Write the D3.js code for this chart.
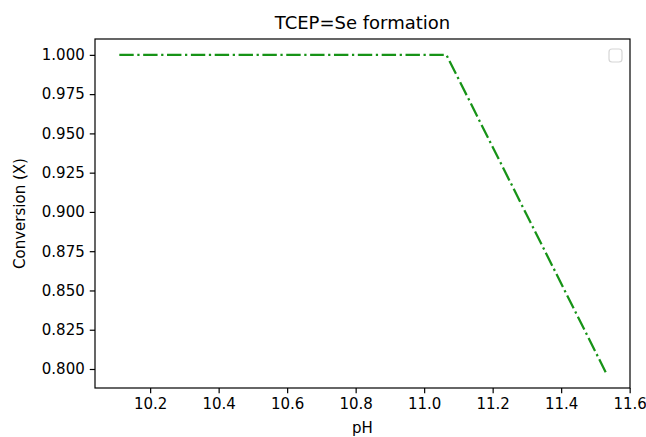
<!DOCTYPE html>
<html>
<head>
<meta charset="utf-8">
<script src="https://cdn.jsdelivr.net/npm/d3@7"></script>
<style>
  body { margin: 0; background: #fff; }
  text { font-family: "DejaVu Sans", sans-serif; fill: #000; }
</style>
</head>
<body>
<div id="chart"></div>
<script>
// data
const phValues = [10.11, 11.065, 11.53];
const conversion = [1.0, 1.0, 0.798];
const xTicks = [10.2, 10.4, 10.6, 10.8, 11.0, 11.2, 11.4, 11.6];
const yTicks = [0.800, 0.825, 0.850, 0.875, 0.900, 0.925, 0.950, 0.975, 1.000];
const title = "TCEP=Se formation";
const xLabel = "pH";
const yLabel = "Conversion (X)";

const data = phValues.map((p, i) => ({ ph: p, x: conversion[i] }));

const margin = { top: 39, right: 16, bottom: 49, left: 95 };
const width = 646 - margin.left - margin.right;
const height = 437 - margin.top - margin.bottom;

const svg = d3.select("#chart")
    .append("svg")
    .attr("width", 646)
    .attr("height", 437)
    .append("g")
    .attr("transform", "translate(" + margin.left + "," + margin.top + ")");

// matplotlib style 5% padding
const xExt = d3.extent(data, d => d.ph);
const yExt = d3.extent(data, d => d.x);
const xPad = (xExt[1] - xExt[0]) * 0.05;
const yPad = (yExt[1] - yExt[0]) * 0.05;

const x = d3.scaleLinear()
    .domain([xExt[0] - xPad, xExt[1] + xPad])
    .range([0, width]);

const y = d3.scaleLinear()
    .domain([yExt[0] - yPad, yExt[1] + yPad])
    .range([height, 0]);

const xAxis = svg.append("g")
    .attr("transform", "translate(0," + height + ")")
    .call(d3.axisBottom(x).tickValues(xTicks).tickFormat(d3.format(".1f")).tickSize(5.25).tickPadding(5));

const yAxis = svg.append("g")
    .call(d3.axisLeft(y).tickValues(yTicks).tickFormat(d3.format(".3f")).tickSize(5.25).tickPadding(5));

[xAxis, yAxis].forEach(a => {
    a.select(".domain").remove();
    a.selectAll("line").attr("stroke", "#000").attr("stroke-width", 1.2);
    a.selectAll("text").style("font-size", "15px").style("font-family", "DejaVu Sans").attr("fill", "#222");
});

// frame
svg.append("rect")
    .attr("width", width)
    .attr("height", height)
    .attr("fill", "none")
    .attr("stroke", "#000")
    .attr("stroke-width", 1.2);

const line = d3.line()
    .x(d => x(d.ph))
    .y(d => y(d.x));

svg.append("path")
    .datum(data)
    .attr("fill", "none")
    .attr("stroke", "#179317")
    .attr("stroke-width", 2.25)
    .attr("stroke-dasharray", "14.4,3.6,2.25,3.6")
    .attr("d", line);

// empty legend box
svg.append("rect")
    .attr("x", width - 21)
    .attr("y", 10)
    .attr("width", 13)
    .attr("height", 13)
    .attr("rx", 3)
    .attr("fill", "#fff")
    .attr("stroke", "#d6d6d6")
    .attr("stroke-width", 1.2);

svg.append("text")
    .attr("x", width / 2)
    .attr("y", -10)
    .attr("text-anchor", "middle")
    .style("font-size", "18px")
    .text(title);

svg.append("text")
    .attr("x", width / 2)
    .attr("y", height + 45)
    .attr("text-anchor", "middle")
    .style("font-size", "15px")
    .attr("fill", "#222")
    .text(xLabel);

svg.append("text")
    .attr("transform", "translate(" + (-70) + "," + (height / 2) + ") rotate(-90)")
    .attr("text-anchor", "middle")
    .style("font-size", "15px")
    .attr("fill", "#222")
    .text(yLabel);
</script>
</body>
</html>
